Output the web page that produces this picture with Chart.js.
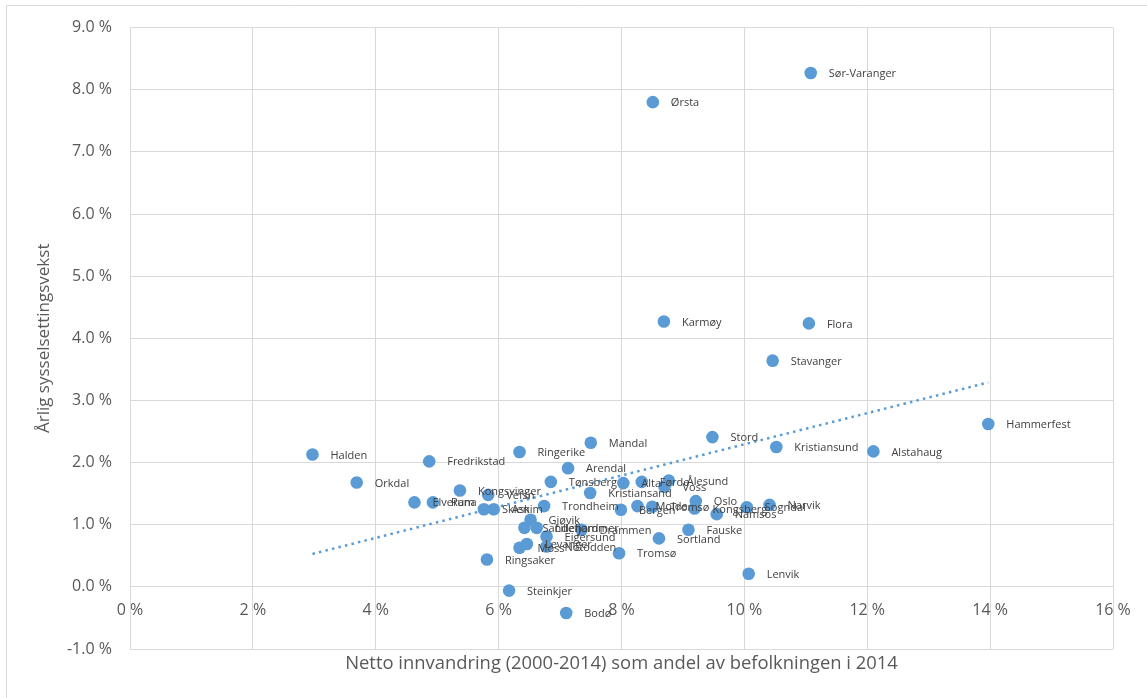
<!DOCTYPE html>
<html>
<head>
<meta charset="utf-8">
<script src="https://cdn.jsdelivr.net/npm/chart.js@4"></script>
<style>
    html, body { margin: 0; padding: 0; background: #fff; }
    #wrap { width: 1147px; height: 698px; position: relative; }
</style>
</head>
<body>
<div id="wrap"><canvas id="chartMigration"></canvas></div>
<script>
// towns and their values (percent)
const towns = ["Sør-Varanger", "Ørsta", "Karmøy", "Flora", "Stavanger", "Hammerfest", "Alstahaug",
    "Kristiansund", "Stord", "Mandal", "Ringerike", "Fredrikstad", "Halden", "Orkdal", "Elverum",
    "Rana", "Kongsvinger", "Vefsn", "Skien", "Askim", "Trondheim", "Gjøvik", "Sandefjord",
    "Lillehammer", "Drammen", "Eigersund", "Levanger", "Moss", "Notodden", "Ringsaker", "Steinkjer",
    "Bodø", "Tønsberg", "Arendal", "Kristiansand", "Alta", "Førde", "Voss", "Ålesund", "Bergen",
    "Molde", "Tromsø", "Oslo", "Kongsberg", "Namsos", "Sogndal", "Narvik", "Fauske", "Sortland",
    "Tromsø", "Lenvik"]
const migration = [11.08, 8.51, 8.69, 11.05, 10.46, 13.97, 12.10,
    10.52, 9.48, 7.50, 6.34, 4.87, 2.97, 3.69, 4.63,
    4.93, 5.37, 5.83, 5.76, 5.92, 6.74, 6.52, 6.42,
    6.62, 7.35, 6.78, 6.46, 6.34, 6.78, 5.81, 6.17,
    7.10, 6.85, 7.13, 7.49, 8.03, 8.33, 8.70, 8.77, 7.99,
    8.26, 8.50, 9.21, 9.19, 9.55, 10.04, 10.41, 9.09, 8.61,
    7.96, 10.07]
const jobGrowth = [8.27, 7.80, 4.27, 4.24, 3.64, 2.62, 2.18,
    2.25, 2.41, 2.32, 2.17, 2.02, 2.13, 1.68, 1.36,
    1.36, 1.55, 1.48, 1.25, 1.25, 1.30, 1.08, 0.95,
    0.95, 0.92, 0.81, 0.69, 0.63, 0.65, 0.44, -0.06,
    -0.42, 1.69, 1.91, 1.51, 1.67, 1.69, 1.61, 1.71, 1.24,
    1.30, 1.29, 1.38, 1.26, 1.17, 1.28, 1.32, 0.92, 0.78,
    0.54, 0.21]

// linear trend, end points
const trendX = [2.97, 13.97]
const trendY = [0.53, 3.29]

const xTickLabels = ["0 %", "2 %", "4 %", "6 %", "8 %", "10 %", "12 %", "14 %", "16 %"]
const yTickLabels = ["-1.0 %", "0.0 %", "1.0 %", "2.0 %", "3.0 %", "4.0 %", "5.0 %", "6.0 %", "7.0 %", "8.0 %", "9.0 %"]

const xTitle = "Netto innvandring (2000-2014) som andel av befolkningen i 2014"
const yTitle = "Årlig sysselsettingsvekst"

const blue = "#5b9bd5"
const gridGray = "#d9d9d9"
const textGray = "#595959"
const font = "'Open Sans', 'DejaVu Sans', sans-serif"

const points = migration.map((x, i) => ({ x: x, y: jobGrowth[i] }))
const trend = trendX.map((x, i) => ({ x: x, y: trendY[i] }))

// town names to the right of each dot
const townLabels = {
    id: "townLabels",
    afterDatasetsDraw(chart) {
        const meta = chart.getDatasetMeta(1)
        const c = chart.ctx
        c.save()
        c.font = "11px " + font
        c.fillStyle = "#404040"
        c.textBaseline = "middle"
        c.textAlign = "left"
        meta.data.forEach((el, i) => {
            c.fillText(towns[i], el.x + 18, el.y + 1)
        })
        c.restore()
    }
}

// frame edge + x title below the plot (x axis sits on the 0 line)
const extras = {
    id: "extras",
    beforeDraw(chart) {
        const c = chart.ctx
        c.save()
        c.strokeStyle = gridGray
        c.lineWidth = 1
        c.beginPath()
        c.moveTo(6.5, 698)
        c.lineTo(6.5, 5.5)
        c.lineTo(1147, 5.5)
        c.stroke()
        c.restore()
    },
    afterDraw(chart) {
        const a = chart.chartArea
        const c = chart.ctx
        c.save()
        c.font = "18.4px " + font
        c.fillStyle = textGray
        c.textAlign = "center"
        c.textBaseline = "middle"
        c.fillText(xTitle, (a.left + a.right) / 2, 664)
        c.restore()
    }
}

const ctx = document.getElementById("chartMigration")

const migChart = new Chart(ctx, {
    type: "scatter",
    data: {
        datasets: [{
            type: "line",
            data: trend,
            borderColor: blue,
            borderWidth: 2.5,
            borderDash: [2.5, 4.2],
            pointRadius: 0,
            fill: false
        }, {
            data: points,
            pointRadius: 6.3,
            pointHoverRadius: 6.3,
            pointBackgroundColor: blue,
            pointBorderColor: blue,
            pointBorderWidth: 0
        }]
    },
    options: {
        responsive: true,
        maintainAspectRatio: false,
        animation: false,
        layout: { padding: { top: 26, right: 34, bottom: 49, left: 0 } },
        plugins: {
            legend: { display: false },
            tooltip: { enabled: false }
        },
        scales: {
            x: {
                type: "linear",
                position: { y: 0 },
                min: 0,
                max: 16,
                grid: { color: gridGray, drawTicks: false },
                border: { color: gridGray },
                ticks: {
                    stepSize: 2,
                    padding: 14,
                    color: textGray,
                    font: { family: font, size: 16 },
                    callback: (v) => xTickLabels[Math.round(v / 2)]
                }
            },
            y: {
                type: "linear",
                position: "left",
                min: -1,
                max: 9,
                afterFit: (scale) => { scale.width = 130 },
                grid: { color: gridGray, drawTicks: false },
                border: { color: gridGray },
                ticks: {
                    stepSize: 1,
                    padding: 18,
                    color: textGray,
                    font: { family: font, size: 16 },
                    callback: (v) => yTickLabels[Math.round(v + 1)]
                },
                title: {
                    display: true,
                    text: yTitle,
                    color: textGray,
                    font: { family: font, size: 17, weight: "normal" },
                    padding: { top: 34, bottom: 0 }
                }
            }
        }
    },
    plugins: [townLabels, extras]
})
</script>
</body>
</html>
